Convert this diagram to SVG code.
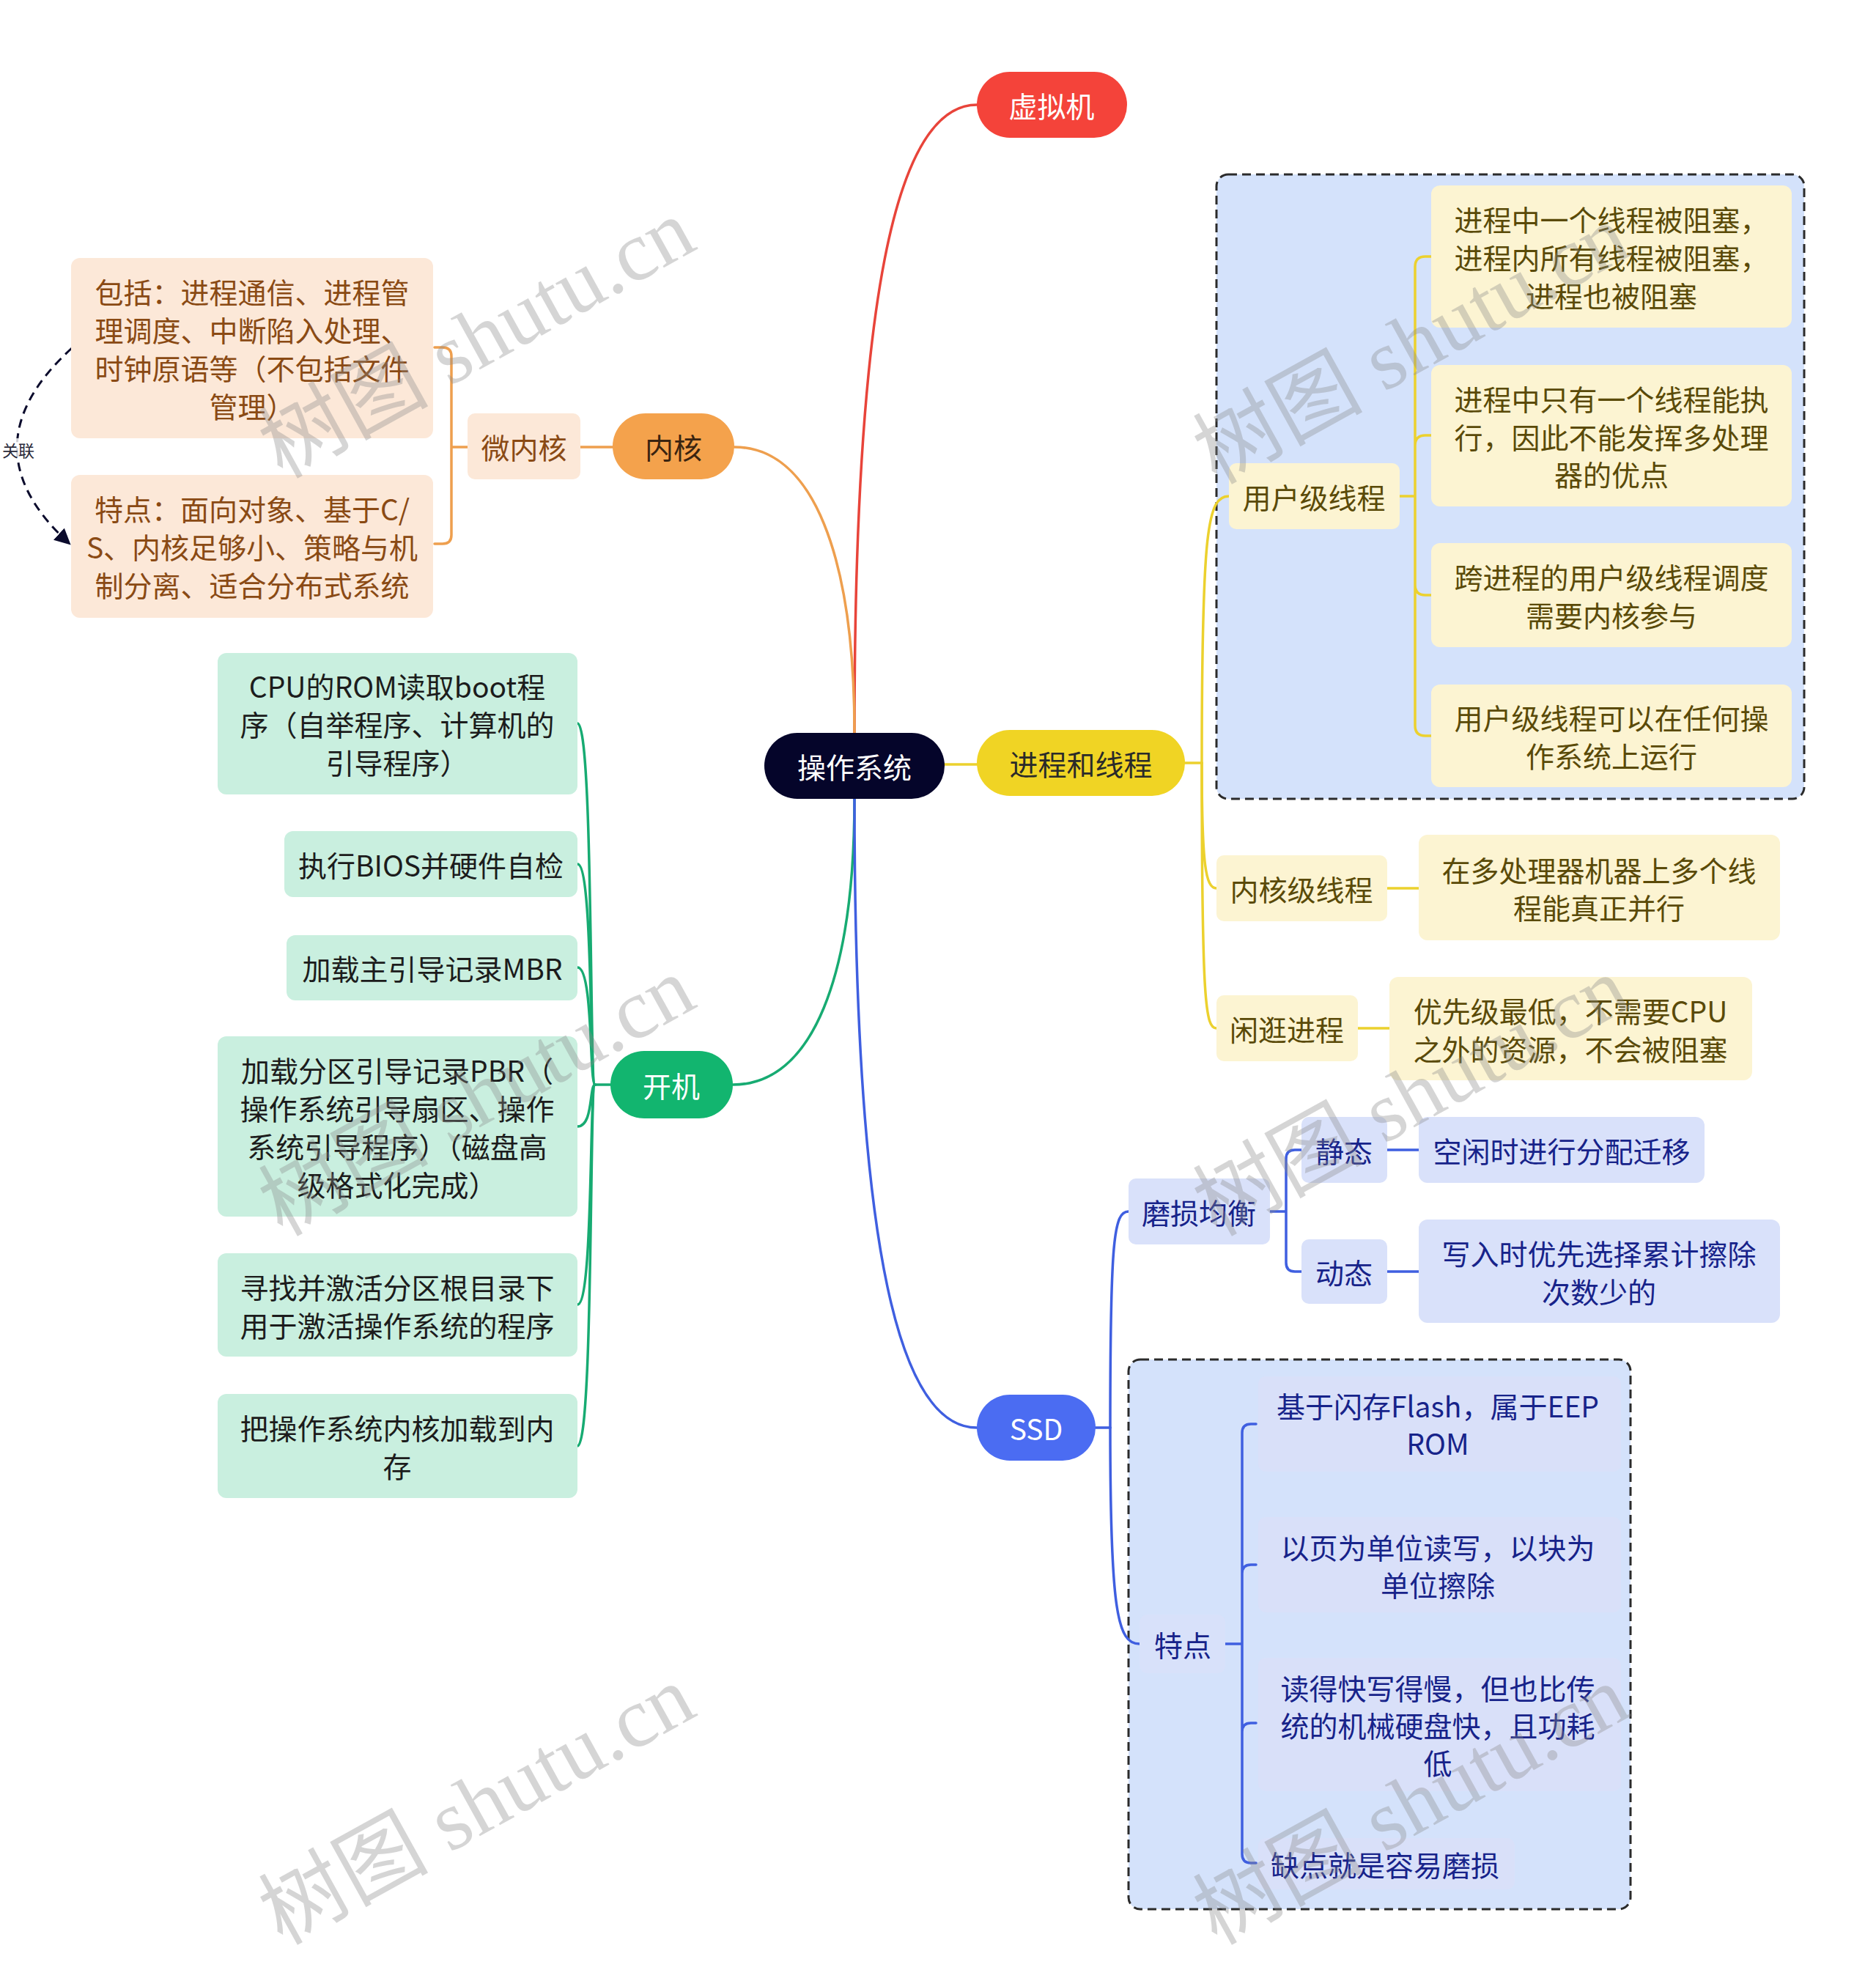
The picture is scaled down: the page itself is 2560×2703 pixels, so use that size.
<svg xmlns="http://www.w3.org/2000/svg" width="2560" height="2703" viewBox="0 0 2560 2703">
<defs>
<style>
text{font-family:"Noto Sans CJK SC","Microsoft YaHei",sans-serif;font-size:39px;text-anchor:middle;dominant-baseline:central}
.w{fill:#ffffff}
.dk{fill:#2a2a2a}
.or{fill:#8a4a14}
.ye{fill:#5a4a08}
.gr{fill:#1c1c1c}
.bl{fill:#17238a}
.c{fill:none;stroke-width:3.5;stroke-linecap:round}
.cr{stroke:#e8443a}.co{stroke:#ee9f4e}.cy{stroke:#ecd12e}.cg{stroke:#17ab72}.cb{stroke:#3f5fe0}
.boxo{fill:#fce8d8}.boxy{fill:#fcf4d2}.boxg{fill:#c9efdf}.boxb{fill:#d9e1fa}
.dash{fill:#d4e2fb;stroke:#2b2b2b;stroke-width:3;stroke-dasharray:12 7}
.wm{font-family:"Liberation Serif","Noto Sans CJK SC",serif;font-size:116px;fill:#8a8a8a;opacity:0.35;text-anchor:start;dominant-baseline:alphabetic}
</style>
<marker id="arrow" viewBox="0 0 10 10" refX="9" refY="5" markerWidth="22" markerHeight="22" markerUnits="userSpaceOnUse" orient="auto">
<path d="M0,0 L10,5 L0,10 z" fill="#0b0b2c"/>
</marker>
</defs>
<rect width="2560" height="2703" fill="#ffffff"/>

<g id="container-threads"><rect class="dash" x="1660" y="238" width="802" height="852" rx="16"/></g>
<g id="container-ssd"><rect class="dash" x="1540" y="1855" width="685" height="750" rx="16"/></g>

<g id="connectors">
<path class="c cr" d="M1166,1000 C1166,420 1220,143 1333,143"/>
<path class="c co" d="M1166,1000 C1166,760 1110,610 1002,610"/>
<path class="c cy" d="M1289,1043 H1333"/>
<path class="c cg" d="M1166,1090 C1166,1330 1110,1480 1000,1480"/>
<path class="c cb" d="M1166,1090 C1166,1720 1230,1948 1333,1948"/>
<path class="c co" d="M836,610 H792"/>
<path class="c co" d="M638,610 H616 M593,474 H604 Q616,474 616,486 V730 Q616,742 604,742 H593"/>
<path class="c cy" d="M1617,1041 H1640"/>
<path class="c cy" d="M1640,1041 C1640,720 1648,677 1677,677"/>
<path class="c cy" d="M1640,1041 C1640,1180 1645,1212 1660,1212"/>
<path class="c cy" d="M1640,1041 C1640,1370 1645,1403 1660,1403"/>
<path class="c cy" d="M1910,677 H1931 M1953,350 H1945 Q1931,350 1931,364 V990 Q1931,1004 1945,1004 H1953 M1931,608 Q1931,594 1945,594 H1953 M1931,798 Q1931,812 1945,812 H1953"/>
<path class="c cy" d="M1893,1212 H1936"/>
<path class="c cy" d="M1853,1403 H1896"/>
<path class="c cg" d="M833,1480 H812"/>
<path class="c cg" d="M812,1480 C804,1480 810,987 788,987"/>
<path class="c cg" d="M812,1480 C804,1480 810,1179 788,1179"/>
<path class="c cg" d="M812,1480 C804,1480 810,1320 788,1320"/>
<path class="c cg" d="M812,1480 C804,1480 810,1537 788,1537"/>
<path class="c cg" d="M812,1480 C804,1480 810,1780 788,1780"/>
<path class="c cg" d="M812,1480 C804,1480 810,1973 788,1973"/>
<path class="c cb" d="M1495,1948 H1515"/>
<path class="c cb" d="M1515,1948 C1515,1690 1520,1653 1540,1653"/>
<path class="c cb" d="M1515,1948 C1515,2200 1525,2243 1555,2243"/>
<path class="c cb" d="M1733,1653 H1755 M1776,1569 H1767 Q1755,1569 1755,1581 V1723 Q1755,1735 1767,1735 H1776"/>
<path class="c cb" d="M1893,1569 H1936"/>
<path class="c cb" d="M1893,1735 H1936"/>
<path class="c cb" d="M1672,2243 H1695 M1714,1943 H1707 Q1695,1943 1695,1955 V2530 Q1695,2542 1707,2542 H1714 M1695,2147 Q1695,2135 1707,2135 H1714 M1695,2363 Q1695,2351 1707,2351 H1714"/>
<path d="M98,475 Q-50,610 95,742" fill="none" stroke="#0b0b2c" stroke-width="3" stroke-dasharray="12 8" marker-end="url(#arrow)"/>
<rect x="1" y="598" width="48" height="30" fill="#ffffff" opacity="0.8"/>
<text x="25" y="613" style="font-size:22px;fill:#2a2a3a">关联</text>
</g>

<g id="root"><rect x="1043" y="1000" width="246" height="90" rx="45" fill="#05052a"/><text class="w" x="1166" y="1045">操作系统</text></g>

<g id="n-vm"><rect x="1333" y="98" width="205" height="90" rx="45" fill="#f4433a"/><text class="w" x="1435" y="143">虚拟机</text></g>

<g id="n-kernel"><rect x="836" y="564" width="166" height="90" rx="45" fill="#f4a24c"/><text x="919" y="609" style="fill:#3a2410">内核</text></g>
<g id="n-micro"><rect class="boxo" x="638" y="564" width="154" height="90" rx="10"/><text class="or" x="715" y="609">微内核</text></g>
<g id="n-micro-1"><rect class="boxo" x="97" y="352" width="494" height="246" rx="12"/>
<text class="or" x="344" y="397">包括：进程通信、进程管</text>
<text class="or" x="344" y="449">理调度、中断陷入处理、</text>
<text class="or" x="344" y="501">时钟原语等（不包括文件</text>
<text class="or" x="344" y="553">管理）</text></g>
<g id="n-micro-2"><rect class="boxo" x="97" y="648" width="494" height="195" rx="12"/>
<text class="or" x="344" y="693">特点：面向对象、基于C/</text>
<text class="or" x="344" y="745">S、内核足够小、策略与机</text>
<text class="or" x="344" y="797">制分离、适合分布式系统</text></g>

<g id="n-threads"><rect x="1333" y="996" width="284" height="90" rx="45" fill="#f0d424"/><text class="dk" x="1475" y="1041">进程和线程</text></g>
<g id="n-ult"><rect class="boxy" x="1677" y="632" width="233" height="90" rx="10"/><text class="ye" x="1793" y="677">用户级线程</text></g>
<g id="n-ult-1"><rect class="boxy" x="1953" y="253" width="492" height="194" rx="12"/>
<text class="ye" x="2199" y="298">进程中一个线程被阻塞，</text>
<text class="ye" x="2199" y="350">进程内所有线程被阻塞，</text>
<text class="ye" x="2199" y="402">进程也被阻塞</text></g>
<g id="n-ult-2"><rect class="boxy" x="1953" y="498" width="492" height="193" rx="12"/>
<text class="ye" x="2199" y="543">进程中只有一个线程能执</text>
<text class="ye" x="2199" y="595">行，因此不能发挥多处理</text>
<text class="ye" x="2199" y="646">器的优点</text></g>
<g id="n-ult-3"><rect class="boxy" x="1953" y="741" width="492" height="142" rx="12"/>
<text class="ye" x="2199" y="786">跨进程的用户级线程调度</text>
<text class="ye" x="2199" y="838">需要内核参与</text></g>
<g id="n-ult-4"><rect class="boxy" x="1953" y="934" width="492" height="140" rx="12"/>
<text class="ye" x="2199" y="978">用户级线程可以在任何操</text>
<text class="ye" x="2199" y="1030">作系统上运行</text></g>
<g id="n-klt"><rect class="boxy" x="1660" y="1167" width="233" height="90" rx="10"/><text class="ye" x="1776" y="1212">内核级线程</text></g>
<g id="n-klt-1"><rect class="boxy" x="1936" y="1139" width="493" height="144" rx="12"/>
<text class="ye" x="2182" y="1186">在多处理器机器上多个线</text>
<text class="ye" x="2182" y="1237">程能真正并行</text></g>
<g id="n-idle"><rect class="boxy" x="1660" y="1358" width="193" height="90" rx="10"/><text class="ye" x="1756" y="1403">闲逛进程</text></g>
<g id="n-idle-1"><rect class="boxy" x="1896" y="1333" width="495" height="141" rx="12"/>
<text class="ye" x="2143" y="1378">优先级最低，不需要CPU</text>
<text class="ye" x="2143" y="1430">之外的资源，不会被阻塞</text></g>

<g id="n-boot"><rect x="833" y="1434" width="167" height="92" rx="46" fill="#12b56f"/><text class="w" x="916" y="1480">开机</text></g>
<g id="n-boot-1"><rect class="boxg" x="297" y="891" width="491" height="193" rx="12"/>
<text class="gr" x="542" y="935">CPU的ROM读取boot程</text>
<text class="gr" x="542" y="987">序（自举程序、计算机的</text>
<text class="gr" x="542" y="1039">引导程序）</text></g>
<g id="n-boot-2"><rect class="boxg" x="388" y="1134" width="400" height="90" rx="12"/><text class="gr" x="588" y="1179">执行BIOS并硬件自检</text></g>
<g id="n-boot-3"><rect class="boxg" x="391" y="1276" width="397" height="89" rx="12"/><text class="gr" x="590" y="1320">加载主引导记录MBR</text></g>
<g id="n-boot-4"><rect class="boxg" x="297" y="1414" width="491" height="246" rx="12"/>
<text class="gr" x="542" y="1459">加载分区引导记录PBR（</text>
<text class="gr" x="542" y="1511">操作系统引导扇区、操作</text>
<text class="gr" x="542" y="1563">系统引导程序）（磁盘高</text>
<text class="gr" x="542" y="1615">级格式化完成）</text></g>
<g id="n-boot-5"><rect class="boxg" x="297" y="1710" width="491" height="141" rx="12"/>
<text class="gr" x="542" y="1755">寻找并激活分区根目录下</text>
<text class="gr" x="542" y="1807">用于激活操作系统的程序</text></g>
<g id="n-boot-6"><rect class="boxg" x="297" y="1902" width="491" height="142" rx="12"/>
<text class="gr" x="542" y="1947">把操作系统内核加载到内</text>
<text class="gr" x="542" y="1999">存</text></g>

<g id="n-ssd"><rect x="1333" y="1903" width="162" height="90" rx="45" fill="#4b6cf2"/><text class="w" x="1414" y="1948">SSD</text></g>
<g id="n-wear"><rect class="boxb" x="1540" y="1608" width="193" height="90" rx="10"/><text class="bl" x="1636" y="1653">磨损均衡</text></g>
<g id="n-static"><rect class="boxb" x="1776" y="1524" width="117" height="90" rx="10"/><text class="bl" x="1834" y="1569">静态</text></g>
<g id="n-static-1"><rect class="boxb" x="1936" y="1524" width="390" height="90" rx="12"/><text class="bl" x="2131" y="1569">空闲时进行分配迁移</text></g>
<g id="n-dyn"><rect class="boxb" x="1776" y="1691" width="117" height="88" rx="10"/><text class="bl" x="1834" y="1735">动态</text></g>
<g id="n-dyn-1"><rect class="boxb" x="1936" y="1664" width="493" height="141" rx="12"/>
<text class="bl" x="2182" y="1709">写入时优先选择累计擦除</text>
<text class="bl" x="2182" y="1761">次数少的</text></g>
<g id="n-feat"><rect x="1555" y="2203" width="117" height="80" rx="10" fill="#d8e1fa"/><text class="bl" x="1614" y="2243">特点</text></g>
<g id="n-feat-1"><rect x="1717" y="1878" width="495" height="130" rx="10" fill="#d9e0f9"/>
<text class="bl" x="1962" y="1917">基于闪存Flash，属于EEP</text>
<text class="bl" x="1962" y="1968">ROM</text></g>
<g id="n-feat-2"><rect x="1717" y="2070" width="495" height="130" rx="10" fill="#d9e0f9"/>
<text class="bl" x="1962" y="2110">以页为单位读写，以块为</text>
<text class="bl" x="1962" y="2161">单位擦除</text></g>
<g id="n-feat-3"><rect x="1717" y="2262" width="495" height="182" rx="10" fill="#d9e0f9"/>
<text class="bl" x="1962" y="2302">读得快写得慢，但也比传</text>
<text class="bl" x="1962" y="2353">统的机械硬盘快，且功耗</text>
<text class="bl" x="1962" y="2404">低</text></g>
<g id="n-feat-4"><rect x="1717" y="2508" width="350" height="70" rx="10" fill="#d9e0f9"/>
<text class="bl" x="1734" y="2543" style="text-anchor:start">缺点就是容易磨损</text></g>

<g id="watermarks">
<text class="wm" transform="translate(385,654) rotate(-29)">树图 shutu.cn</text>
<text class="wm" transform="translate(1660,662) rotate(-29)">树图 shutu.cn</text>
<text class="wm" transform="translate(385,1688) rotate(-29)">树图 shutu.cn</text>
<text class="wm" transform="translate(1660,1688) rotate(-29)">树图 shutu.cn</text>
<text class="wm" transform="translate(385,2655) rotate(-29)">树图 shutu.cn</text>
<text class="wm" transform="translate(1660,2655) rotate(-29)">树图 shutu.cn</text>
</g>
</svg>
